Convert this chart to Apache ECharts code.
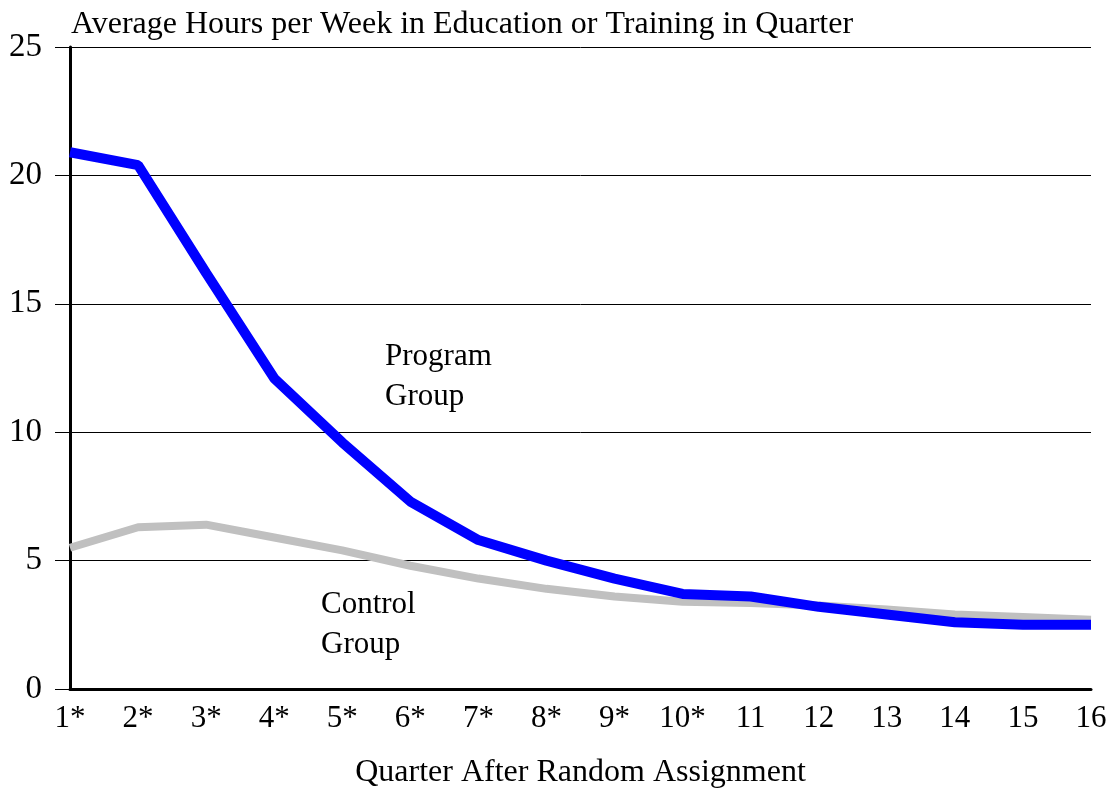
<!DOCTYPE html>
<html>

<head>
    <title>Hours in Education or Training</title>
    <meta charset="utf-8">
    <script type="text/javascript" src="https://cdn.jsdelivr.net/npm/echarts@6/dist/echarts.min.js"></script>
    <style>
    body {
        margin: 0;
        background: #fff;
    }

    .main {
        width: 1113px;
        height: 797px;
    }
    </style>
</head>

<body>
    <div id="main" class="main"></div>
    <script type="text/javascript">
    //数据
    const quarters = ['1*', '2*', '3*', '4*', '5*', '6*', '7*', '8*', '9*', '10*', '11', '12', '13', '14', '15', '16'];
    const programGroup = [20.9, 20.4, 16.2, 12.1, 9.6, 7.3, 5.8, 5.0, 4.3, 3.7, 3.6, 3.2, 2.9, 2.6, 2.5, 2.5];
    const controlGroup = [5.5, 6.3, 6.4, 5.9, 5.4, 4.8, 4.3, 3.9, 3.6, 3.4, 3.35, 3.25, 3.1, 2.9, 2.8, 2.7];
    const yTicks = [0, 5, 10, 15, 20, 25];

    const font = 'Liberation Serif, Times New Roman, serif';
    const myChart = echarts.init(document.getElementById('main'));

    const option = {
        backgroundColor: '#fff',
        animation: false,
        title: {
            text: 'Average Hours per Week in Education or Training in Quarter',
            left: 66,
            top: 4,
            textStyle: {
                fontFamily: font,
                fontWeight: 'normal',
                fontSize: 32,
                color: '#000'
            }
        },
        grid: {
            left: 70,
            right: 22,
            top: 47,
            bottom: 108
        },
        xAxis: {
            type: 'category',
            data: quarters,
            boundaryGap: false,
            name: 'Quarter After Random Assignment',
            nameLocation: 'middle',
            nameGap: 68,
            nameTextStyle: {
                fontFamily: font,
                fontSize: 32,
                color: '#000'
            },
            axisLine: {
                lineStyle: { color: '#000', width: 3 }
            },
            axisTick: { show: false },
            axisLabel: {
                interval: 0,
                margin: 14,
                fontFamily: font,
                fontSize: 31,
                color: '#000'
            },
            splitLine: { show: false }
        },
        yAxis: {
            type: 'value',
            min: yTicks[0],
            max: yTicks[yTicks.length - 1],
            interval: yTicks[1] - yTicks[0],
            axisLine: {
                show: true,
                lineStyle: { color: '#000', width: 3 }
            },
            axisTick: {
                show: true,
                length: 15,
                lineStyle: { color: '#000', width: 1 }
            },
            axisLabel: {
                margin: 28,
                fontFamily: font,
                fontSize: 33,
                color: '#000'
            },
            splitLine: {
                lineStyle: { color: '#000', width: 1 }
            }
        },
        graphic: [{
            type: 'text',
            left: 385,
            top: 337,
            style: {
                text: 'Program\nGroup',
                font: '31px ' + font,
                lineHeight: 40,
                fill: '#000'
            }
        }, {
            type: 'text',
            left: 321,
            top: 585,
            style: {
                text: 'Control\nGroup',
                font: '31px ' + font,
                lineHeight: 40,
                fill: '#000'
            }
        }],
        series: [{
            name: 'Control Group',
            type: 'line',
            data: controlGroup,
            symbol: 'none',
            lineStyle: { color: '#c0c0c0', width: 8 },
            z: 2
        }, {
            name: 'Program Group',
            type: 'line',
            data: programGroup,
            symbol: 'none',
            lineStyle: { color: '#0000ff', width: 10 },
            z: 3
        }]
    };
    myChart.setOption(option);
    </script>
</body>

</html>
